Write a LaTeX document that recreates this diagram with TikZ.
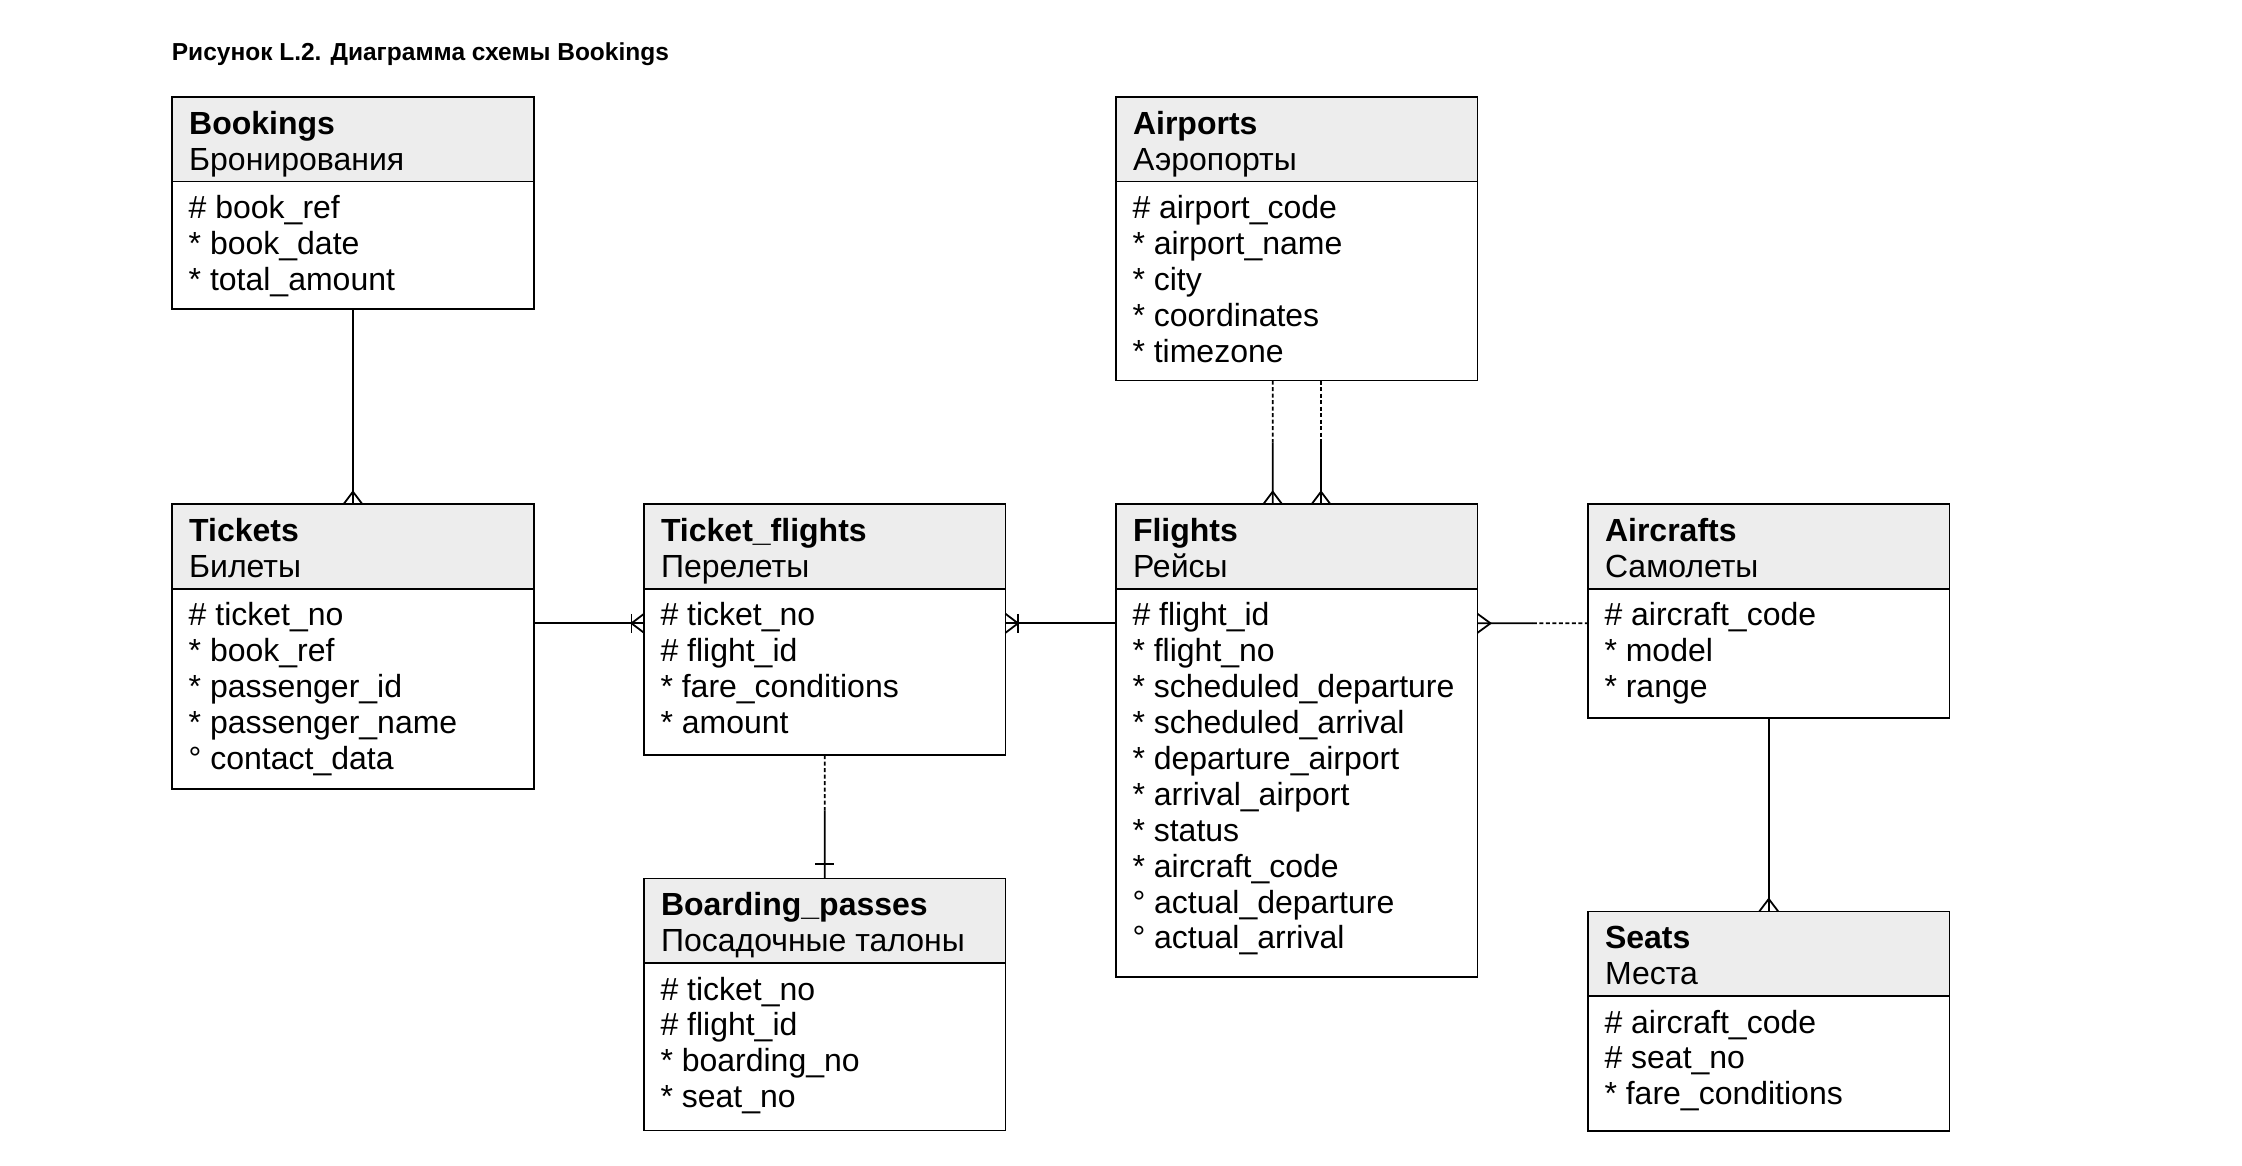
\documentclass[tikz,border=0pt]{standalone}
\usepackage{fontspec}
\setmainfont{Liberation Sans}
\usetikzlibrary{calc}
\definecolor{headfill}{RGB}{237,237,237}

\tikzset{
  entbox/.style={rectangle, inner sep=0pt, outer sep=0pt, minimum width=361.5pt},
  boxline/.style={line width=1.8pt, black},
  conn/.style={line width=1.8pt, black},
  optional/.style={conn, dash pattern=on 4pt off 2.5pt},
  ertext/.style={inner sep=0pt, outer sep=0pt, anchor=base west,
    font=\fontsize{32}{35.9}\selectfont},
  titletxt/.style={ertext, font=\fontsize{32}{35.9}\selectfont\bfseries},
}

% \entity{name}{x}{y}{height}{title}{subtitle}{rows}
\newcommand\entity[7]{%
  \node[entbox, minimum height=#4pt, anchor=north west] (#1) at (#2,#3) {};
  \fill[headfill] (#1.north west) rectangle ([yshift=-84.4pt]#1.north east);
  \draw[boxline] ([yshift=-84.4pt]#1.north west) -- ([yshift=-84.4pt]#1.north east);
  \draw[boxline] (#1.north west) rectangle (#1.south east);
  \node[titletxt] (#1-t) at ([xshift=17pt,yshift=-37pt]#1.north west) {#5};
  \node[ertext] (#1-s) at ([xshift=17pt,yshift=-73pt]#1.north west) {#6};
  \foreach \r [count=\i from 0] in {#7}
    \node[ertext] (#1-r\i) at ([xshift=16.5pt,yshift=-121.5pt-\i*35.9pt]#1.north west) {\r};
}

\begin{document}
\begin{tikzpicture}[x=1pt, y=-1pt]
\useasboundingbox[fill=white] (0,0) rectangle (2242,1166);

\node[inner sep=0pt, anchor=base west] (caption) at (171.7,60.5)
  {\resizebox{497pt}{17.8pt}{\bfseries Рисунок L.2. Диаграмма схемы Bookings}};

\entity{bookings}{172.2}{97.2}{211.5}{Bookings}{Бронирования}
  {\# book\_ref, * book\_date, * total\_amount}
\entity{airports}{1116}{97.2}{283.3}{Airports}{Аэропорты}
  {\# airport\_code, * airport\_name, * city, * coordinates, * timezone}
\entity{tickets}{172.2}{504.3}{284.4}{Tickets}{Билеты}
  {\# ticket\_no, * book\_ref, * passenger\_id, * passenger\_name, ° contact\_data}
\entity{tflights}{644}{504.3}{250.7}{Ticket\_flights}{Перелеты}
  {\# ticket\_no, \# flight\_id, * fare\_conditions, * amount}
\entity{flights}{1116}{504.3}{472.4}{Flights}{Рейсы}
  {\# flight\_id, * flight\_no, * scheduled\_departure, * scheduled\_arrival,
   * departure\_airport, * arrival\_airport, * status, * aircraft\_code,
   ° actual\_departure, ° actual\_arrival}
\entity{aircrafts}{1588}{504.3}{213.4}{Aircrafts}{Самолеты}
  {\# aircraft\_code, * model, * range}
\entity{bpasses}{644}{878.5}{252}{Boarding\_passes}{Посадочные талоны}
  {\# ticket\_no, \# flight\_id, * boarding\_no, * seat\_no}
\entity{seats}{1588}{911.5}{219.5}{Seats}{Места}
  {\# aircraft\_code, \# seat\_no, * fare\_conditions}

% Bookings -- Tickets
\draw[conn] (bookings.south) -- (tickets.north);
\draw[conn] ([xshift=-9.5pt]tickets.north) -- ([yshift=12.6pt]tickets.north) -- ([xshift=9.5pt]tickets.north);

% Tickets -- Ticket_flights
\coordinate (tfw) at ([yshift=-119pt]tflights.north west);
\draw[conn] (tfw -| tickets.east) -- (tfw);
\draw[conn] ([yshift=9.5pt]tfw) -- ([xshift=-12.5pt]tfw) -- ([yshift=-9.5pt]tfw);
\draw[conn] ([xshift=-12.5pt,yshift=9.5pt]tfw) -- ([xshift=-12.5pt,yshift=-9.5pt]tfw);

% Flights -- Ticket_flights
\coordinate (tfe) at ([yshift=-119pt]tflights.north east);
\draw[conn] (tfe) -- (tfe -| flights.west);
\draw[conn] ([yshift=9.5pt]tfe) -- ([xshift=12.5pt]tfe) -- ([yshift=-9.5pt]tfe);
\draw[conn] ([xshift=12.5pt,yshift=9.5pt]tfe) -- ([xshift=12.5pt,yshift=-9.5pt]tfe);

% Flights -- Aircrafts
\coordinate (fle) at ([yshift=-119pt]flights.north east);
\coordinate (acw) at (fle -| aircrafts.west);
\draw[conn] (fle) -- ($(fle)!0.5!(acw)$);
\draw[optional] ($(fle)!0.5!(acw)$) -- (acw);
\draw[conn] ([yshift=9.5pt]fle) -- ([xshift=13pt]fle) -- ([yshift=-9.5pt]fle);

% Airports -- Flights (departure and arrival airport)
\foreach \dx [count=\k] in {156.7,205} {
  \coordinate (ap\k) at ([xshift=\dx pt]airports.south west);
  \coordinate (fl\k) at (ap\k |- flights.north);
  \draw[optional] (ap\k) -- ($(ap\k)!0.5!(fl\k)$);
  \draw[conn] ($(ap\k)!0.5!(fl\k)$) -- (fl\k);
  \draw[conn] ([xshift=-9.5pt]fl\k) -- ([yshift=12.6pt]fl\k) -- ([xshift=9.5pt]fl\k);
}

% Ticket_flights -- Boarding_passes
\draw[optional] (tflights.south) -- ($(tflights.south)!0.45!(bpasses.north)$);
\draw[conn] ($(tflights.south)!0.45!(bpasses.north)$) -- (bpasses.north);
\draw[conn] ([xshift=-9.3pt,yshift=14.7pt]bpasses.north) -- ([xshift=9.3pt,yshift=14.7pt]bpasses.north);

% Aircrafts -- Seats
\draw[conn] (aircrafts.south) -- (seats.north);
\draw[conn] ([xshift=-9.5pt]seats.north) -- ([yshift=12.6pt]seats.north) -- ([xshift=9.5pt]seats.north);
\end{tikzpicture}
\end{document}
